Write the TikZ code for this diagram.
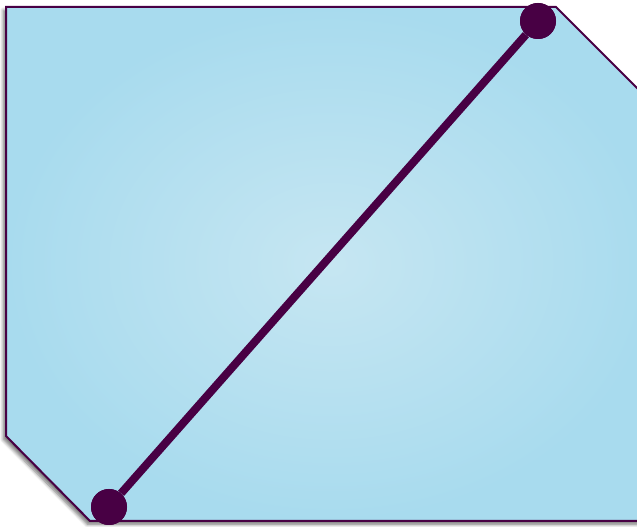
\documentclass[tikz,border=0pt]{standalone}
\usetikzlibrary{shadows.blur}
\definecolor{edgepurple}{RGB}{72,0,68}
\definecolor{fillin}{RGB}{198,230,242}
\definecolor{fillout}{RGB}{168,219,238}
\tikzset{
  panel/.style={draw=edgepurple, line width=1.5pt, inner color=fillin, outer color=fillout,
    blur shadow={shadow xshift=-2pt, shadow yshift=-2.5pt, shadow blur radius=2.5pt, shadow blur steps=6, shadow opacity=55}},
  dot/.style={circle, fill=edgepurple, inner sep=0pt, minimum size=27pt},
  link/.style={draw=edgepurple, line width=6pt}
}
\begin{document}
\begin{tikzpicture}[x=0.75pt, y=-0.75pt]
\useasboundingbox (0,0) rectangle (637,527);
\clip (0,0) rectangle (637,527);
\path[panel] (6,7) -- (556,7) -- (656,107) -- (656,521) -- (90,521) -- (6,436) -- cycle;
\node[dot] (a) at (538,21) {};
\node[dot] (b) at (109,507) {};
\draw[link] (a) -- (b);
\node[dot] at (a) {};
\node[dot] at (b) {};
\end{tikzpicture}
\end{document}
